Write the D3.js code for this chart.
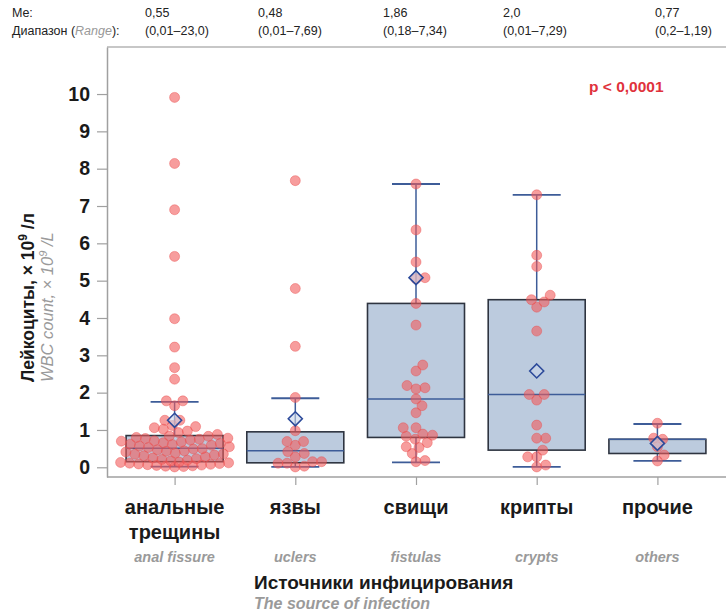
<!DOCTYPE html>
<html><head><meta charset="utf-8">
<script src="https://cdn.jsdelivr.net/npm/d3@7"></script>
<style>
html,body{margin:0;padding:0;background:#fff;}
svg{display:block;font-family:"Liberation Sans",Arial,sans-serif;}
</style></head>
<body>
<svg id="chart" width="726" height="612"></svg>
<script>
// ---------------- data ----------------
const categories = ["анальные трещины", "язвы", "свищи", "крипты", "прочие"];
const catLinesRu = [["анальные", "трещины"], ["язвы"], ["свищи"], ["крипты"], ["прочие"]];
const catEn = ["anal fissure", "uclers", "fistulas", "crypts", "others"];
const medianLabels = ["0,55", "0,48", "1,86", "2,0", "0,77"];
const rangeLabels = ["(0,01–23,0)", "(0,01–7,69)", "(0,18–7,34)", "(0,01–7,29)", "(0,2–1,19)"];
const yTicks = [0, 1, 2, 3, 4, 5, 6, 7, 8, 9, 10];

// box statistics
const q1 = [0.15, 0.12, 0.80, 0.46, 0.37];
const median = [0.51, 0.44, 1.83, 1.95, 0.75];
const q3 = [0.85, 0.95, 4.39, 4.49, 0.75];
const whiskerLow = [0.02, 0.01, 0.13, 0.01, 0.17];
const whiskerHigh = [1.75, 1.85, 7.59, 7.30, 1.16];
const mean = [1.26, 1.30, 5.08, 2.58, 0.64];

// individual observations
const analFissure = [0.02,0.05,0.01,0.08,0.04,0.12,0.03,0.10,0.06,0.14,0.07,0.11,0.09,0.13,
  0.17,0.21,0.19,0.25,0.28,0.23,0.31,0.35,0.33,0.38,0.41,0.36,0.44,0.47,0.43,0.49,0.50,
  0.53,0.57,0.55,0.61,0.59,0.64,0.66,0.62,0.70,0.68,0.73,0.75,0.71,0.78,0.80,0.77,0.83,0.84,
  0.88,0.93,0.97,1.02,1.06,1.09,1.12,
  1.26,1.26,1.65,1.78,1.78,2.36,2.67,3.22,3.98,5.65,6.90,8.14,9.91];
const ulcers = [7.68,4.79,3.24,1.87,0.98,0.69,0.69,0.59,0.42,0.37,0.28,0.11,0.03,0.15,0.11,0.15,0.01];
const fistulas = [7.59,6.36,5.50,5.05,5.08,4.39,3.81,2.74,2.58,2.10,2.13,2.19,1.83,1.65,1.46,1.06,1.06,
  0.86,0.83,0.89,0.75,0.55,0.66,0.53,0.37,0.15,0.18];
const crypts = [7.30,5.68,5.38,4.49,4.61,4.43,4.29,3.65,1.95,1.95,1.80,1.13,0.78,0.78,0.46,0.28,0.28,0.01,0.06];
const others = [1.18,0.78,0.75,0.55,0.33,0.17];
const groups = [analFissure, ulcers, fistulas, crypts, others];

// ---------------- layout ----------------
const plotLeft = 107, plotRight = 726, plotTop = 47, plotBottom = 477;
const headerX = [145, 258, 383, 503, 655];
const boxW = 97, capW = 48, ptR = 5, ptGap = 9, maxOff = 55;

const svg = d3.select("#chart");

const x = d3.scalePoint().domain(categories).range([plotLeft, 725]).padding(0.56);
const y = d3.scaleLinear().domain([-0.26, 11.26]).range([plotBottom, plotTop]);

// header
const hdr = svg.append("g").attr("font-family", "'Liberation Sans Narrow','Arial Narrow',sans-serif")
  .attr("font-size", 12.5).attr("fill", "#222");
hdr.append("text").attr("x", 12).attr("y", 17).text("Me:");
const rl = hdr.append("text").attr("x", 12).attr("y", 35);
rl.append("tspan").text("Диапазон (");
rl.append("tspan").attr("fill", "#999").attr("font-style", "italic").text("Range");
rl.append("tspan").text("):");
categories.forEach((c, i) => {
  hdr.append("text").attr("x", headerX[i]).attr("y", 17).text(medianLabels[i]);
  hdr.append("text").attr("x", headerX[i]).attr("y", 35).text(rangeLabels[i]);
});

// frame top line
svg.append("line").attr("x1", plotLeft).attr("x2", plotRight).attr("y1", plotTop).attr("y2", plotTop)
  .attr("stroke", "#b5b5b5").attr("stroke-width", 1.5);

// y axis
const yAxis = svg.append("g").attr("transform", `translate(${plotLeft},0)`)
  .call(d3.axisLeft(y).tickValues(yTicks).tickSize(10).tickPadding(7).tickSizeOuter(0).tickFormat(d3.format("d")));
yAxis.select(".domain").attr("stroke", "#a0a0a0").attr("stroke-width", 1.5);
yAxis.selectAll(".tick line").attr("stroke", "#a0a0a0").attr("stroke-width", 1.2);
yAxis.selectAll(".tick text").attr("font-family", "'Liberation Sans',Arial,sans-serif")
  .attr("font-size", 19.5).attr("font-weight", "bold").attr("fill", "#1a1a1a");

// x axis
const xAxis = svg.append("g").attr("transform", `translate(0,${plotBottom})`)
  .call(d3.axisBottom(x).tickSize(8).tickSizeOuter(0).tickFormat(""));
xAxis.select(".domain").attr("stroke", "#a0a0a0").attr("stroke-width", 1.5).attr("d", `M${plotLeft},0H${plotRight}`);
xAxis.selectAll(".tick line").attr("stroke", "#a0a0a0").attr("stroke-width", 1.2);

// boxes
const boxFill = "#bccbde", boxStroke = "#2e3440", blue = "#3d5c98";
const g = svg.append("g");
categories.forEach((c, i) => {
  const cx = x(c);
  g.append("line").attr("x1", cx).attr("x2", cx).attr("y1", y(q3[i])).attr("y2", y(whiskerHigh[i]))
    .attr("stroke", blue).attr("stroke-width", 1.5);
  g.append("line").attr("x1", cx).attr("x2", cx).attr("y1", y(q1[i])).attr("y2", y(whiskerLow[i]))
    .attr("stroke", blue).attr("stroke-width", 1.5);
  [whiskerHigh[i], whiskerLow[i]].forEach(v => {
    g.append("line").attr("x1", cx - capW / 2).attr("x2", cx + capW / 2).attr("y1", y(v)).attr("y2", y(v))
      .attr("stroke", blue).attr("stroke-width", 1.8);
  });
  g.append("rect").attr("x", cx - boxW / 2).attr("width", boxW)
    .attr("y", y(q3[i])).attr("height", y(q1[i]) - y(q3[i]))
    .attr("fill", boxFill).attr("stroke", boxStroke).attr("stroke-width", 1.6);
  g.append("line").attr("x1", cx - boxW / 2).attr("x2", cx + boxW / 2).attr("y1", y(median[i])).attr("y2", y(median[i]))
    .attr("stroke", blue).attr("stroke-width", 1.5);
});

// points (deterministic beeswarm, limited width)
function swarm(values, cx) {
  const placed = [];
  const order = values.map((v, i) => i).sort((a, b) => values[a] - values[b]);
  order.forEach(idx => {
    const py = y(values[idx]);
    let best = cx, bestD = -1, found = false;
    const nSteps = Math.round(maxOff / 0.75);
    for (let k = 0; k <= 2 * nSteps; k++) {
      const off = (k % 2 ? 1 : -1) * Math.ceil(k / 2) * 0.75;
      const tx = cx + off;
      let dmin = Infinity;
      placed.forEach(p => { const d = (p[0] - tx) ** 2 + (p[1] - py) ** 2; if (d < dmin) dmin = d; });
      if (dmin >= ptGap * ptGap) { best = tx; found = true; break; }
      if (dmin > bestD + 0.01) { bestD = dmin; best = tx; }
    }
    placed.push([best, py]);
  });
  return placed;
}
const pts = svg.append("g");
categories.forEach((c, i) => {
  swarm(groups[i], x(c)).forEach(p => {
    pts.append("circle").attr("cx", p[0]).attr("cy", p[1]).attr("r", ptR)
      .attr("fill", "#f25c5c").attr("fill-opacity", 0.6)
      .attr("stroke", "#e84848").attr("stroke-opacity", 0.5).attr("stroke-width", 0.8);
  });
});

// means
const dm = svg.append("g");
categories.forEach((c, i) => {
  const cx = x(c), cy = y(mean[i]), s = 7;
  dm.append("path").attr("d", `M${cx},${cy - s}L${cx + s},${cy}L${cx},${cy + s}L${cx - s},${cy}Z`)
    .attr("fill", "#c9d5e8").attr("fill-opacity", 0.6).attr("stroke", "#2c4a9a").attr("stroke-width", 1.6);
});

// p-value
svg.append("text").attr("x", 589).attr("y", 92).attr("font-size", 15.5).attr("font-weight", "bold")
  .attr("fill", "#e0323c").text("p < 0,0001");

// category labels
categories.forEach((c, i) => {
  const cx = x(c);
  catLinesRu[i].forEach((ln, j) => {
    svg.append("text").attr("x", cx).attr("y", 514 + j * 25).attr("text-anchor", "middle")
      .attr("font-size", 20).attr("font-weight", "bold").attr("fill", "#1a1a1a").text(ln);
  });
  svg.append("text").attr("x", cx).attr("y", 562).attr("text-anchor", "middle")
    .attr("font-size", 14.5).attr("font-style", "italic").attr("font-weight", "bold").attr("fill", "#9a9a9a").text(catEn[i]);
});

// x title
svg.append("text").attr("x", 254).attr("y", 589).attr("font-size", 19).attr("font-weight", "bold")
  .attr("fill", "#1a1a1a").text("Источники инфицирования");
svg.append("text").attr("x", 254).attr("y", 609).attr("font-size", 16).attr("font-style", "italic")
  .attr("font-weight", "bold").attr("fill", "#9a9a9a").text("The source of infection");

// y title
const yt1 = svg.append("text").attr("transform", "translate(34,382) rotate(-90)")
  .attr("font-size", 17.5).attr("font-weight", "bold").attr("fill", "#1a1a1a");
yt1.append("tspan").text("Лейкоциты, × 10");
yt1.append("tspan").attr("dy", -7).attr("font-size", 12).text("9");
yt1.append("tspan").attr("dy", 7).text(" /л");
const yt2 = svg.append("text").attr("transform", "translate(53,382) rotate(-90)")
  .attr("font-size", 16.5).attr("font-style", "italic").attr("fill", "#9a9a9a");
yt2.append("tspan").text("WBC count, × 10");
yt2.append("tspan").attr("dy", -6).attr("font-size", 11).text("9");
yt2.append("tspan").attr("dy", 6).text(" /L");
</script>
</body></html>
